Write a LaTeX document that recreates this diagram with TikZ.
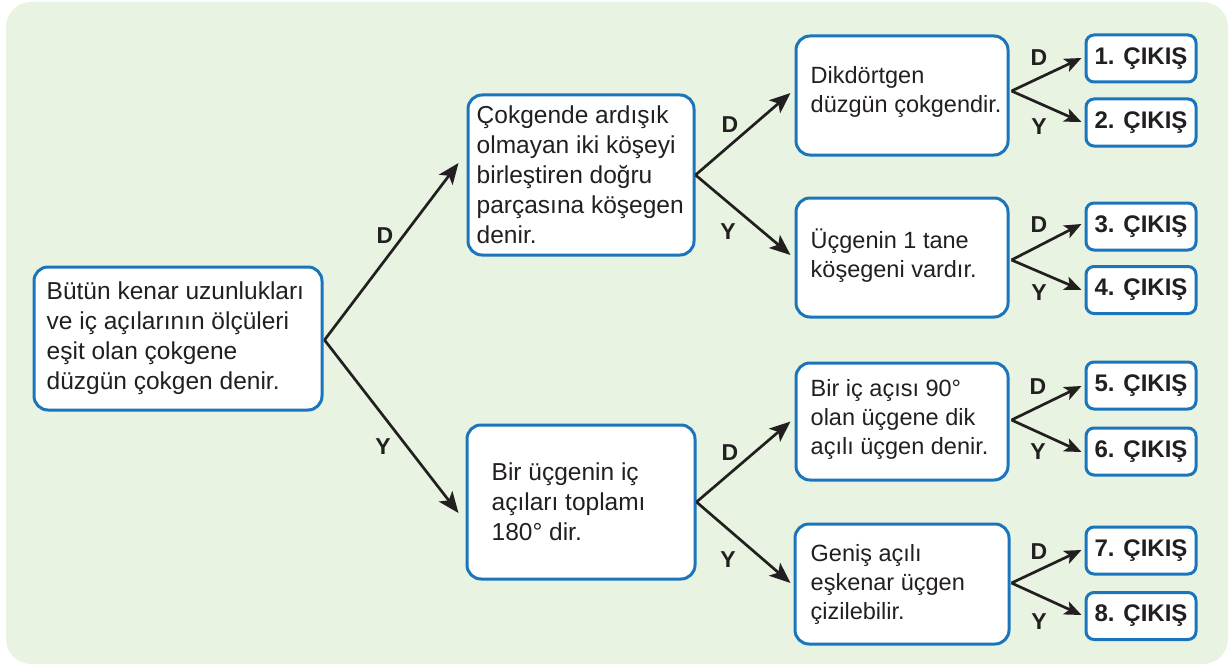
\documentclass[tikz,border=0pt]{standalone}
\usepackage{fontspec}
\setmainfont{Liberation Sans}
\usetikzlibrary{arrows.meta,calc}
\definecolor{bggreen}{HTML}{E8F3E1}
\definecolor{boxblue}{HTML}{1B75BC}
\definecolor{ink}{HTML}{231F20}
\tikzset{
  box/.style={draw=boxblue, line width=3pt, rounded corners=14pt, fill=white, inner sep=0pt},
  obox/.style={box, rounded corners=8pt, minimum width=110pt, minimum height=47pt,
    font={\fontsize{24}{28}\selectfont\bfseries}, text=ink},
  txt/.style={anchor=west, align=left, inner sep=0pt, text=ink,
    font={\fontsize{24.5}{30}\selectfont}},
  ctxt/.style={txt, font={\fontsize{23.5}{29}\selectfont}},
  lbl/.style={text=ink, inner sep=0pt, font={\fontsize{23}{27}\selectfont\bfseries}},
  bigarrow/.style={draw=ink, line width=2.7pt, -{Stealth[length=21pt,width=17pt,inset=5pt]}},
  smallarrow/.style={draw=ink, line width=2.7pt, -{Stealth[length=17pt,width=14pt,inset=4pt]}}
}
\begin{document}
\begin{tikzpicture}[x=1pt,y=-1pt]
\useasboundingbox (0,0) rectangle (1230,666);
\fill[bggreen, rounded corners=25pt] (6,2) rectangle (1228,664);

% main boxes
\node[box, minimum width=288pt, minimum height=143pt] (A) at (178,338.5) {};
\node[txt] (At) at ($(A.west)+(14,0)$) {Bütün kenar uzunlukları\\ve iç açılarının ölçüleri\\eşit olan çokgene\\düzgün çokgen denir.};

\node[box, minimum width=226pt, minimum height=160pt] (B1) at (581,175) {};
\node[txt] (B1t) at ($(B1.west)+(10,0)$) {Çokgende ardışık\\olmayan iki köşeyi\\birleştiren doğru\\parçasına köşegen\\denir.};

\node[box, minimum width=228pt, minimum height=154pt] (B2) at (581,502) {};
\node[txt] (B2t) at ($(B2.west)+(26,0)$) {Bir üçgenin iç\\açıları toplamı\\180° dir.};

\node[box, minimum width=212pt, minimum height=119pt] (C1) at (902,95.5) {};
\node[ctxt] (C1t) at ($(C1.west)+(16,-4)$) {Dikdörtgen\\düzgün çokgendir.};

\node[box, minimum width=212pt, minimum height=119pt] (C2) at (902,257.5) {};
\node[ctxt] (C2t) at ($(C2.west)+(16,-2)$) {Üçgenin 1 tane\\köşegeni vardır.};

\node[box, minimum width=212pt, minimum height=117pt] (C3) at (902,421.5) {};
\node[ctxt] (C3t) at ($(C3.west)+(16,-2)$) {Bir iç açısı 90°\\olan üçgene dik\\açılı üçgen denir.};

\node[box, minimum width=214pt, minimum height=120pt] (C4) at (902,584) {};
\node[ctxt] (C4t) at ($(C4.west)+(17,0)$) {Geniş açılı\\eşkenar üçgen\\çizilebilir.};

% output boxes
\node[obox] (O1) at (1141,58.5) {1. ÇIKIŞ};
\node[obox] (O2) at (1141,122.5) {2. ÇIKIŞ};
\node[obox] (O3) at (1141,226.5) {3. ÇIKIŞ};
\node[obox] (O4) at (1141,290) {4. ÇIKIŞ};
\node[obox] (O5) at (1141,385.5) {5. ÇIKIŞ};
\node[obox] (O6) at (1141,451.5) {6. ÇIKIŞ};
\node[obox] (O7) at (1141,550.5) {7. ÇIKIŞ};
\node[obox] (O8) at (1141,616) {8. ÇIKIŞ};

% main arrows
\draw[bigarrow] ($(A.east)+(1,1.5)$) -- ($(B1.west)+(-8,-12)$);
\draw[bigarrow] ($(A.east)+(1,1.5)$) -- ($(B2.west)+(-7,11)$);
\node[lbl] (LA1) at (385,236) {D};
\node[lbl] (LA2) at (383,447) {Y};

\draw[bigarrow] (B1.east) -- ($(C1.west)+(-4,-2.5)$);
\draw[bigarrow] (B1.east) -- ($(C2.west)+(-4,-2.5)$);
\node[lbl] (LB1) at (730,125) {D};
\node[lbl] (LB2) at (728,232) {Y};

\draw[bigarrow] (B2.east) -- ($(C3.west)+(-4,0)$);
\draw[bigarrow] (B2.east) -- ($(C4.west)+(-3,-1)$);
\node[lbl] (LB3) at (730,453) {D};
\node[lbl] (LB4) at (728,560) {Y};

% small arrows
\draw[smallarrow] ($(C1.east)+(2,-4.5)$) -- ($(O1.west)+(-3,-0.5)$);
\draw[smallarrow] ($(C1.east)+(2,-4.5)$) -- ($(O2.west)+(-3,-0.5)$);
\node[lbl] (LC1) at (1039,58) {D};
\node[lbl] (LC2) at (1039,127) {Y};

\draw[smallarrow] ($(C2.east)+(2,2.5)$) -- ($(O3.west)+(-3,-2.5)$);
\draw[smallarrow] ($(C2.east)+(2,2.5)$) -- ($(O4.west)+(-3,0)$);
\node[lbl] (LC3) at (1039,225) {D};
\node[lbl] (LC4) at (1039,293) {Y};

\draw[smallarrow] ($(C3.east)+(2,-1.5)$) -- ($(O5.west)+(-3,0.5)$);
\draw[smallarrow] ($(C3.east)+(2,-1.5)$) -- ($(O6.west)+(-3,0.5)$);
\node[lbl] (LC5) at (1038,387) {D};
\node[lbl] (LC6) at (1038,452) {Y};

\draw[smallarrow] ($(C4.east)+(1,-1)$) -- ($(O7.west)+(-3,-0.5)$);
\draw[smallarrow] ($(C4.east)+(1,-1)$) -- ($(O8.west)+(-3,-1)$);
\node[lbl] (LC7) at (1039,552) {D};
\node[lbl] (LC8) at (1039,622) {Y};
\end{tikzpicture}
\end{document}
